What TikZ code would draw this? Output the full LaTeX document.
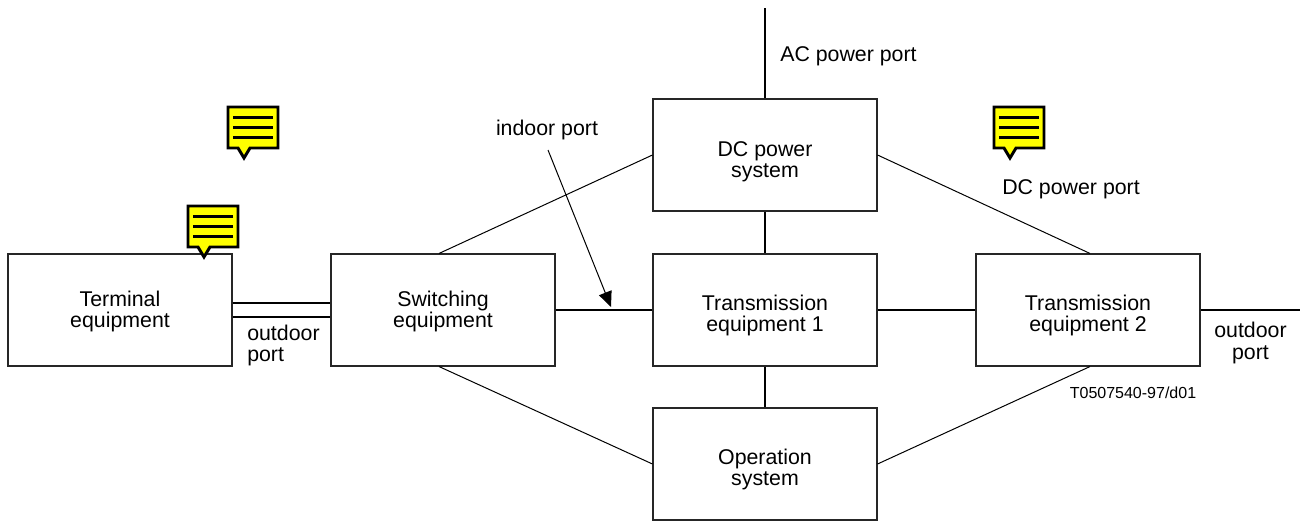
\documentclass[tikz,border=0pt]{standalone}
\usepackage{fontspec}
\setmainfont{Liberation Sans}
\usetikzlibrary{arrows.meta}
\definecolor{noteyellow}{RGB}{255,255,0}
\tikzset{
  px/.style={x=0.75pt,y=-0.75pt},
  blockbox/.style={draw=black!85,line width=0.8pt,minimum width=168pt,minimum height=84pt,inner sep=0pt,align=center,font=\fontsize{16}{16}\selectfont},
  thin line/.style={draw=black,line width=0.75pt},
  thick line/.style={draw=black,line width=1.3pt},
  label text/.style={inner sep=0pt,align=left,anchor=base west,font=\fontsize{16}{16}\selectfont},
  note/.style={draw=black,fill=noteyellow,line width=2.2pt,line join=miter},
  note rule/.style={draw=black,line width=2pt},
}
\newcommand{\notemark}[2]{%
  \begin{scope}[shift={(#1,#2)}]
    \path[note] (0,0) -- (50,0) -- (50,41) -- (22,41) -- (16,51) -- (10,41) -- (0,41) -- cycle;
    \path[note rule] (5,10.5) -- (45,10.5) (5,20.5) -- (45,20.5) (5,30.5) -- (45,30.5);
  \end{scope}}
\newcommand{\lowertext}[1]{\rule{0pt}{#1}}
\begin{document}
\begin{tikzpicture}[px]
\useasboundingbox (0,0) rectangle (1300,521);
\node[blockbox] (term) at (120,310) {\lowertext{13.5pt}Terminal\\equipment};
\node[blockbox] (sw) at (443,310) {\lowertext{13.5pt}Switching\\equipment};
\node[blockbox] (t1) at (765,310) {\lowertext{20pt}Transmission\\equipment 1};
\node[blockbox] (t2) at (1088,310) {\lowertext{20pt}Transmission\\equipment 2};
\node[blockbox] (dc) at (765,155) {\lowertext{21.5pt}DC power\\system};
\node[blockbox] (op) at (765,464) {\lowertext{20pt}Operation\\system};

\coordinate (acend) at (765,8);
\coordinate (outend) at (1300,310);
\coordinate (arrstart) at (548,150);
\coordinate (arrend) at (611,307);

\path[thick line] (acend) -- (dc.north);
\path[thick line] (dc.south) -- (t1.north);
\path[thick line] (t1.south) -- (op.north);
\path[thick line] (sw.east) -- (t1.west);
\path[thick line] (t1.east) -- (t2.west);
\path[thick line] (t2.east) -- (outend);
\path[thick line] ([yshift=5.25pt]term.east) -- ([yshift=5.25pt]sw.west);
\path[thick line] ([yshift=-5.25pt]term.east) -- ([yshift=-5.25pt]sw.west);

\path[thin line] (dc.west) -- ([xshift=-3pt]sw.north);
\path[thin line] (dc.east) -- ([xshift=1.5pt]t2.north);
\path[thin line] ([xshift=-3pt]sw.south) -- (op.west);
\path[thin line] (op.east) -- ([xshift=1.5pt]t2.south);
\path[draw=black,line width=0.75pt,-{Triangle[length=11.5pt,width=10pt]}] (arrstart) -- (arrend);

\notemark{228}{107}
\notemark{188}{206}
\notemark{994}{107}

\node[label text,anchor=base] (indoor) at (547,135.7) {indoor port};
\node[label text] (ac) at (780,61) {AC power port};
\node[label text] (dcp) at (1002,194.3) {DC power port};
\node[label text,anchor=west] (o1) at (247,345.8) {outdoor\\port};
\node[label text,anchor=west,align=center] (o2) at (1214,343.1) {outdoor\\port};
\node[inner sep=0pt,anchor=base,font=\fontsize{12}{14}\selectfont] (ref) at (1133,398) {T0507540-97/d01};
\end{tikzpicture}
\end{document}
